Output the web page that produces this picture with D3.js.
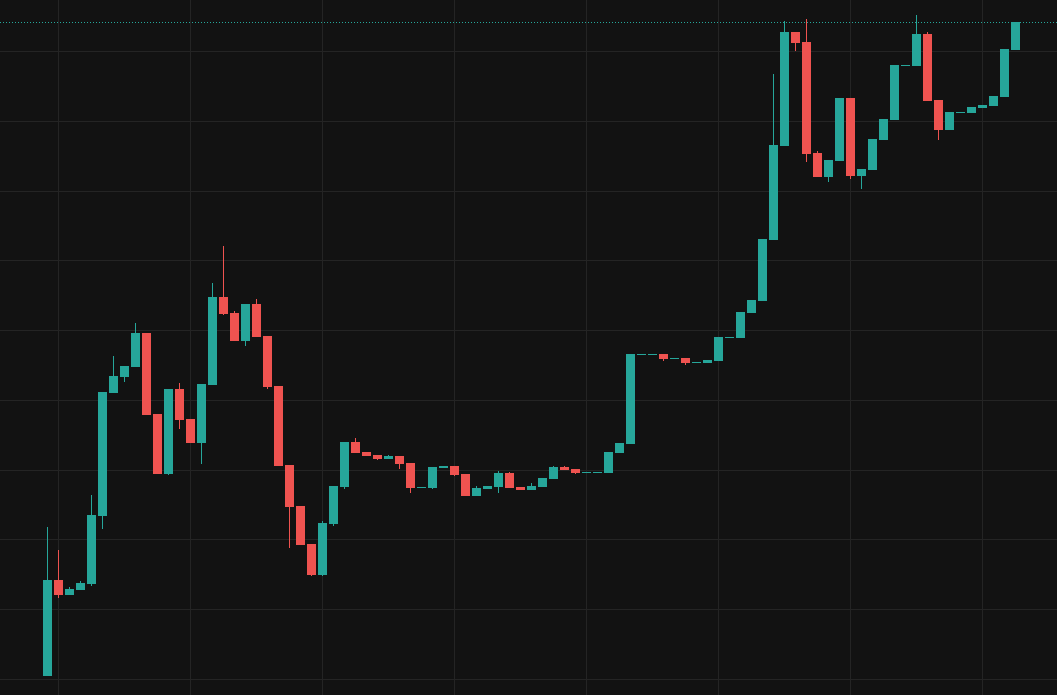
<!DOCTYPE html>
<html>
<head>
<meta charset="utf-8">
<script src="https://cdn.jsdelivr.net/npm/d3@7"></script>
<style>
  html, body { margin: 0; padding: 0; background: #121212; overflow: hidden; }
  svg { display: block; }
</style>
</head>
<body>
<div id="chart"></div>
<script>
// OHLC series (price units), one entry per candle
const opens = [73,169,154,159,165,233,356,372,382,416,335,275,360,330,306,364,452,436,408,445,
  413,363,284,243,205,174,225,262,307,297,294,290,293,286,261,261,281,283,275,253,
  260,262,276,262,259,262,270,282,280,276,276,276,296,305,395,395,395,391,391,387,
  386,388,412,411,436,448,509,603,717,707,596,572,588,651,573,579,609,629,684,683,
  715,649,619,637,636,641,643,652,699];
const highs = [222,199,162,168,254,357,393,383,426,416,335,360,366,330,365,466,503,438,445,450,
  413,363,284,243,205,228,263,307,311,297,294,294,293,286,262,282,283,283,275,263,
  263,278,277,262,266,271,283,283,280,277,277,297,306,395,395,395,395,391,391,387,
  389,412,412,437,449,510,675,728,717,730,598,589,651,651,580,610,630,684,684,734,
  717,649,637,637,642,644,653,700,727];
const lows = [73,151,154,159,163,220,356,367,382,334,275,274,320,306,285,364,434,408,403,412,
  360,283,201,204,173,173,223,260,296,293,289,290,280,256,261,260,281,273,253,253,
  260,256,261,259,259,262,270,279,275,276,276,276,296,305,395,395,388,391,384,387,
  386,388,412,411,436,448,509,603,698,587,572,567,588,570,560,579,609,629,684,683,
  648,609,619,637,636,641,643,652,699];
const closes = [169,154,160,166,234,357,373,383,416,334,275,360,329,306,365,452,435,408,445,412,
  362,283,242,204,174,226,263,307,296,293,290,293,285,261,262,282,283,274,253,261,
  263,276,261,259,263,271,282,279,276,277,277,297,306,395,395,395,390,391,386,387,
  389,412,412,437,449,510,604,717,706,595,572,589,651,573,580,610,630,684,684,715,
  648,619,637,637,642,644,653,700,727];
const gridTicks = [70,140,210,279,349,419,489,558,628,698];

const W = 1057, H = 695;
const up = '#26a69a', down = '#ef5350', grid = '#242424';

const svg = d3.select('#chart').append('svg').attr('width', W).attr('height', H);
svg.append('rect').attr('width', W).attr('height', H).attr('fill', '#121212');

const idx = d3.range(opens.length);
const x = d3.scaleBand().domain(idx).range([42.5, 42.5 + opens.length * 11]).paddingInner(0.18).paddingOuter(0.09);
const y = d3.scaleLinear().domain([70, 698]).range([679, 51]);

// grid lines
svg.append('g').selectAll('line').data(gridTicks).join('line')
  .attr('x1', 0).attr('x2', W)
  .attr('y1', d => Math.round(y(d)) + 0.5).attr('y2', d => Math.round(y(d)) + 0.5)
  .attr('stroke', grid);
const vIdx = idx.filter(i => i % 12 === 1);
svg.append('g').selectAll('line').data(vIdx).join('line')
  .attr('x1', i => Math.round(x(i) + x.bandwidth() / 2) - 0.5)
  .attr('x2', i => Math.round(x(i) + x.bandwidth() / 2) - 0.5)
  .attr('y1', 0).attr('y2', H).attr('stroke', grid);

// candles
const colorOf = i => closes[i] >= opens[i] ? up : down;
const candles = svg.append('g').selectAll('g').data(idx).join('g');
candles.append('line')
  .attr('x1', i => Math.round(x(i) + x.bandwidth() / 2) - 0.5)
  .attr('x2', i => Math.round(x(i) + x.bandwidth() / 2) - 0.5)
  .attr('y1', i => y(highs[i])).attr('y2', i => y(lows[i]))
  .attr('stroke', colorOf).attr('stroke-width', 1);
candles.append('rect')
  .attr('x', i => Math.round(x(i)))
  .attr('width', Math.round(x.bandwidth()))
  .attr('y', i => y(Math.max(opens[i], closes[i])))
  .attr('height', i => Math.max(1, Math.abs(y(opens[i]) - y(closes[i]))))
  .attr('fill', colorOf);

// last price line
const last = closes[closes.length - 1];
svg.append('line')
  .attr('x1', 0).attr('x2', W)
  .attr('y1', Math.round(y(last)) + 0.5).attr('y2', Math.round(y(last)) + 0.5)
  .attr('stroke', up).attr('stroke-dasharray', '1,2');
</script>
</body>
</html>
